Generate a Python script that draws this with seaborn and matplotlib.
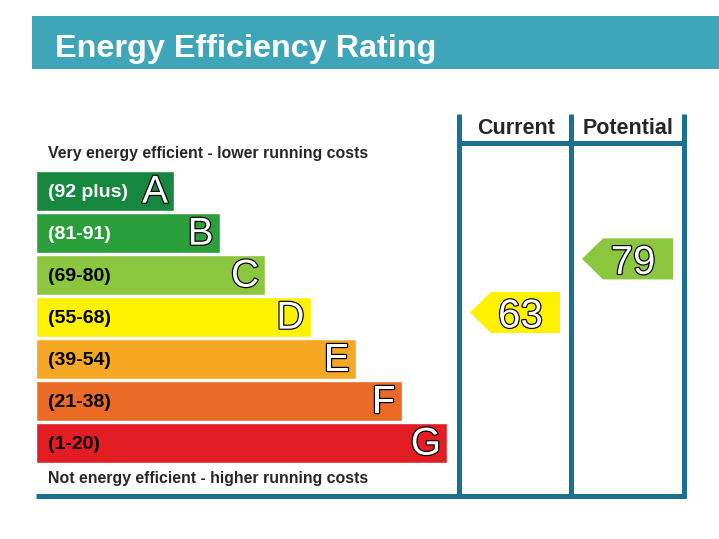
import matplotlib
matplotlib.use('Agg')
import matplotlib.pyplot as plt
import matplotlib.patheffects as pe
import seaborn as sns
import pandas as pd

# chart data
bands = ['A', 'B', 'C', 'D', 'E', 'F', 'G']
ranges = ['(92 plus)', '(81-91)', '(69-80)', '(55-68)', '(39-54)', '(21-38)', '(1-20)']
band_colours = ['#17873f', '#2b9f3b', '#8cc63f', '#fff200', '#f6a724', '#eb6a25', '#e31d24']
columns = ['Current', 'Potential']
ratings = [63, 79]
rating_colours = ['#fff200', '#8cc63f']

sns.set_style('white')
plt.rcParams['font.family'] = ['Liberation Sans', 'DejaVu Sans']

W, H = 719, 539
teal = '#3fa6b9'
navy = '#1b6f91'
outline = [pe.Stroke(linewidth=1.7, foreground='black'), pe.Normal()]

fig = plt.figure(figsize=(W / 100, H / 100), dpi=100)

# background axes in pixel units
bg = fig.add_axes([0, 0, 1, 1])
bg.set_xlim(0, W)
bg.set_ylim(H, 0)
bg.axis('off')

bg.fill_between([32, W], 16, 69, color=teal, lw=0)
bg.text(55, 57, 'Energy Efficiency Rating', color='white', fontsize=23.3,
        fontweight='bold', va='baseline')

bg.text(48, 158, 'Very energy efficient - lower running costs', fontsize=11.4,
        fontweight='bold', va='baseline')
bg.text(48, 483, 'Not energy efficient - higher running costs', fontsize=11.4,
        fontweight='bold', va='baseline')

# rating table frame
col_edges = [459, 571, 684]
bg.vlines(col_edges, 114, 498, color=navy, lw=3.6)
bg.hlines(142.5, col_edges[0], col_edges[-1], color=navy, lw=3.6)
bg.hlines(495.5, 36, col_edges[-1] + 2, color=navy, lw=3.6)
for i, name in enumerate(columns):
    bg.text((col_edges[i] + col_edges[i + 1]) / 2 + 1, 134, name, fontsize=15.5,
            fontweight='bold', ha='center', va='baseline')

# band bars
step = 42
bax = fig.add_axes([36 / W, (H - 170 - 7 * step) / H, (W - 36) / W, 7 * step / H])
lengths = [138 + 45.5 * i for i in range(len(bands))]
df = pd.DataFrame({'band': bands, 'length': lengths})
sns.barplot(data=df, x='length', y='band', hue='band', palette=band_colours,
            legend=False, width=40 / step, saturation=1, orient='h', ax=bax)
bax.set_xlim(0, W - 36)
bax.set_ylim(len(bands) - 0.5, -0.5)
bax.axis('off')
for i, (b, r, ln) in enumerate(zip(bands, ranges, lengths)):
    bax.text(12, i + 0.03, r, fontsize=14, fontweight='bold', va='center',
             color='white' if i < 2 else 'black')
    bax.text(ln - 6, i + 0.04, b, fontsize=28, color='white', ha='right',
             va='center', path_effects=outline)

# rating arrows, placed on a linear rating scale
px_per_point = 3.35
anchor_px = 312.5
rax = fig.add_axes([0, 0, 1, 1], facecolor='none')
rax.set_xlim(0, W)
rax.set_ylim(63 - (H - anchor_px) / px_per_point, 63 + anchor_px / px_per_point)
rax.axis('off')
half = 20.5 / px_per_point
for i, (v, c) in enumerate(zip(ratings, rating_colours)):
    tip = col_edges[i] + 11
    body = tip + 21
    right = col_edges[i + 1] - 11
    rax.fill([tip, body, right, right, body], [v, v + half, v + half, v - half, v - half],
             color=c, lw=0)
    rax.text((body + right) / 2 - 5, v, str(v), fontsize=29, color='white',
             ha='center', va='center_baseline', path_effects=outline)

fig.savefig('out.png', dpi=100)
